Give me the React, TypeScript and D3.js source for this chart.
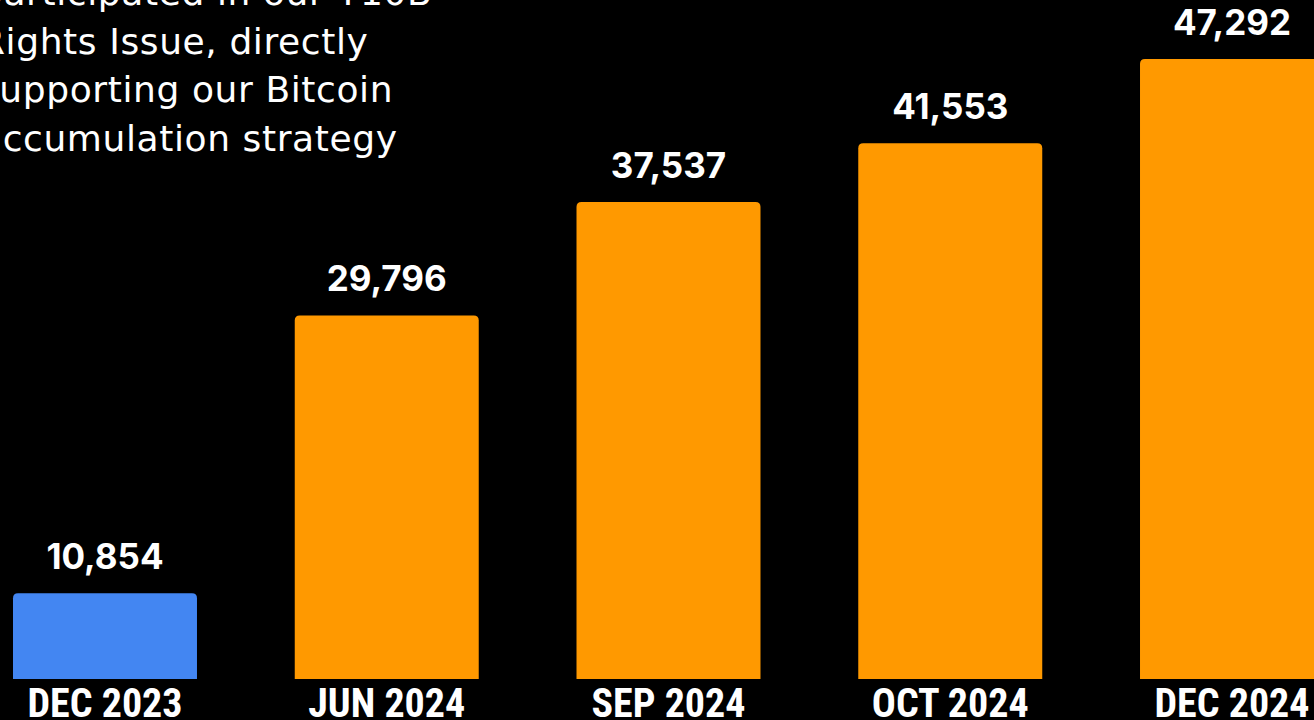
import React from "react";
import * as d3 from "d3";

const categories = ["DEC 2023", "JUN 2024", "SEP 2024", "OCT 2024", "DEC 2024"];
const values = [10854, 29796, 37537, 41553, 47292];
const barColors = ["#4386f2", "#ff9900", "#ff9900", "#ff9900", "#ff9900"];
const noteLines = [
  "participated in our ¥10B",
  "Rights Issue, directly",
  "supporting our Bitcoin",
  "accumulation strategy",
];

const W = 1314;
const H = 720;

function topRoundedBar(x: number, y: number, w: number, h: number, r: number) {
  const p = d3.path();
  p.moveTo(x, y + h);
  p.lineTo(x, y + r);
  p.quadraticCurveTo(x, y, x + r, y);
  p.lineTo(x + w - r, y);
  p.quadraticCurveTo(x + w, y, x + w, y + r);
  p.lineTo(x + w, y + h);
  p.closePath();
  return p.toString();
}

export default function App() {
  const x = d3
    .scaleBand<string>()
    .domain(categories)
    .range([13, 1324])
    .paddingInner(0.347)
    .paddingOuter(0);
  const y = d3.scaleLinear().domain([5000, 47292]).range([679, 59]);
  const fmt = d3.format(",");

  return (
    <svg
      width={W}
      height={H}
      viewBox={`0 0 ${W} ${H}`}
      style={{ position: "fixed", left: 0, top: 0, background: "#000", display: "block" }}
    >
      <rect x={0} y={0} width={W} height={H} fill="#000" />
      <g fontFamily="'DejaVu Sans', 'Noto Sans', sans-serif" fontSize={36} fill="#fff" letterSpacing={0.6}>
        {noteLines.map((t, i) => (
          <text key={i} x={-20} y={5 + i * 48.5}>
            {t}
          </text>
        ))}
      </g>
      {categories.map((c, i) => {
        const bx = x(c) as number;
        const bw = x.bandwidth();
        const top = y(values[i]);
        return (
          <g key={c}>
            <path d={topRoundedBar(bx, top, bw, y.range()[0] - top, 5)} fill={barColors[i]} />
            <text
              x={bx + bw / 2}
              y={top - 24}
              textAnchor="middle"
              fill="#fff"
              fontFamily="Inter, 'Noto Sans', sans-serif"
              fontWeight={700}
              fontSize={35}
            >
              {fmt(values[i])}
            </text>
            <text
              x={bx + bw / 2}
              y={717}
              textAnchor="middle"
              fill="#fff"
              fontFamily="'Liberation Sans Narrow', 'Roboto Condensed', 'Arial Narrow', sans-serif"
              fontWeight={700}
              fontSize={40}
            >
              {c}
            </text>
          </g>
        );
      })}
    </svg>
  );
}
